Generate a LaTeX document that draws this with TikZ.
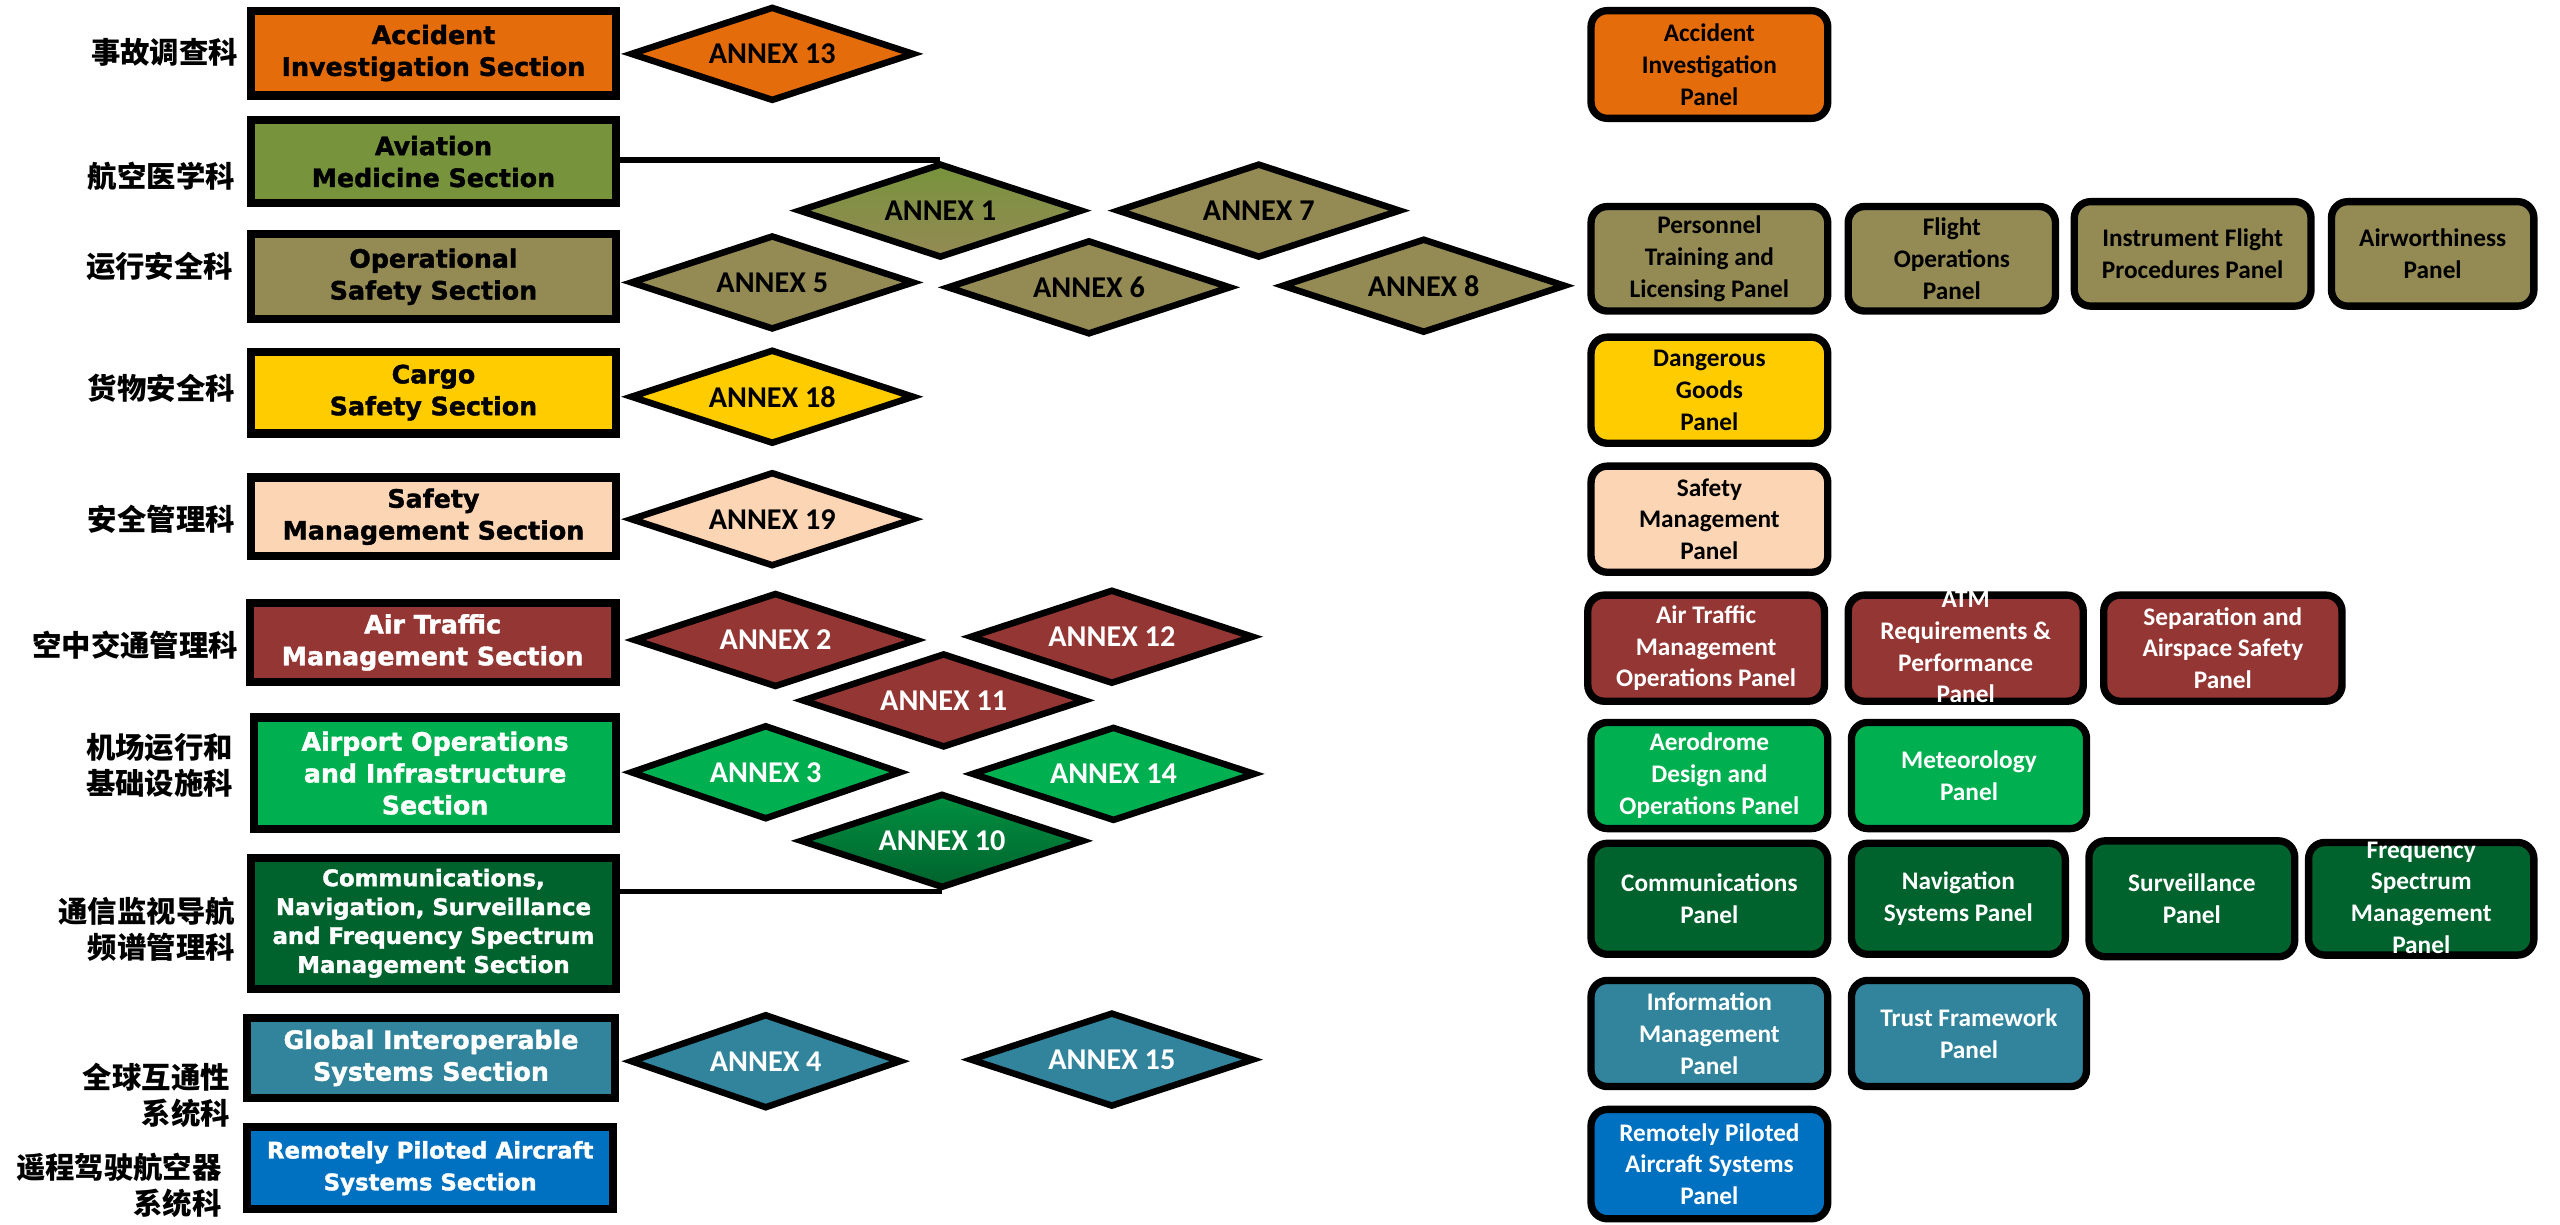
\documentclass[tikz,border=0pt]{standalone}
\usepackage{fontspec}
\usepackage{tikz}
\usetikzlibrary{shapes.geometric,positioning}
\setmainfont{Carlito}
\newfontfamily\boxfam{DejaVu Sans}[BoldFeatures={FakeBold=1.5}]
\newfontfamily\cjk{Noto Sans CJK SC}
\newcommand\boxfont{\boxfam\bfseries\fontsize{15.5}{19.5}\selectfont}
\newcommand\annexfont{\bfseries\fontsize{18.5}{22}\selectfont}
\newcommand\panelfont{\bfseries\fontsize{15.5}{19.5}\selectfont}
\newcommand\cnfont{\cjk\bfseries\fontsize{18}{22}\selectfont}
\newcommand\packlines[1]{\smash{\raisebox{-4pt}{\begin{tabular}{@{}c@{}}#1\end{tabular}}}}

\definecolor{accorange}{HTML}{E46C0A}
\definecolor{medolive}{HTML}{77933C}
\definecolor{opstan}{HTML}{948A54}
\definecolor{cgoyellow}{HTML}{FFCC00}
\definecolor{smgpeach}{HTML}{FCD5B5}
\definecolor{atmred}{HTML}{943634}
\definecolor{agagreen}{HTML}{00B050}
\definecolor{cnsgreen}{HTML}{00622C}
\definecolor{gisteal}{HTML}{31849B}
\definecolor{rpsblue}{HTML}{0070C0}

\tikzstyle{sectbox}=[draw,line width=5pt,minimum width=224pt,minimum height=51pt,inner sep=0pt,align=center,font=\boxfont]
\tikzstyle{annex}=[diamond,aspect=3.2,draw,line width=4pt,minimum width=174pt,minimum height=58pt,inner sep=0pt,font=\annexfont]
\tikzstyle{panel}=[draw,line width=4.5pt,rounded corners=10pt,minimum width=145pt,minimum height=65pt,inner sep=0pt,align=center,font=\panelfont]
\tikzstyle{cnlabel}=[anchor=east,align=right,inner sep=0pt,font=\cnfont]
\tikzstyle{link}=[draw,line width=3.5pt]

\begin{document}
\begin{tikzpicture}[x=1pt,y=-1pt]
  \useasboundingbox (0,0) rectangle (1568,750);

  % sections
  \node[sectbox,fill=accorange,minimum height=52pt] (acc) at (265.5,32.5) {Accident\\Investigation Section};
  \node[sectbox,fill=medolive] (avm) at (265.5,99) {Aviation\\Medicine Section};
  \node[sectbox,fill=opstan,minimum height=52pt] (ops) at (265.5,169.5) {Operational\\Safety Section};
  \node[sectbox,fill=cgoyellow,minimum height=50pt] (cgo) at (265.5,240.5) {Cargo\\Safety Section};
  \node[sectbox,fill=smgpeach,minimum height=48pt] (smg) at (265.5,316.5) {Safety\\Management Section};
  \node[sectbox,fill=atmred,text=white,minimum height=48pt] (atm) at (265,393.5) {Air Traffic\\Management Section};
  \node[sectbox,fill=agagreen,text=white,minimum width=222pt,minimum height=68pt] (aga) at (266.5,473.5) {Airport Operations\\and Infrastructure\\Section};
  \node[sectbox,fill=cnsgreen,text=white,minimum height=80pt,font=\boxfam\bfseries\fontsize{14}{17.7}\selectfont] (cns) at (265.5,565.5) {Communications,\\Navigation, Surveillance\\and Frequency Spectrum\\Management Section};
  \node[sectbox,fill=gisteal,text=white,minimum width=225pt,minimum height=49pt] (gis) at (264,648) {Global Interoperable\\Systems Section};
  \node[sectbox,fill=rpsblue,text=white,minimum height=50pt,font=\boxfam\bfseries\fontsize{14}{19.5}\selectfont] (rps) at (263.5,715.5) {Remotely Piloted Aircraft\\Systems Section};

  % chinese names
  \node[cnlabel] (acclbl) at (146,32) {事故调查科};
  \node[cnlabel] (avmlbl) at (144,108) {航空医学科};
  \node[cnlabel] (opslbl) at (143,163) {运行安全科};
  \node[cnlabel] (cgolbl) at (144,238) {货物安全科};
  \node[cnlabel] (smglbl) at (144,318) {安全管理科};
  \node[cnlabel] (atmlbl) at (146,395) {空中交通管理科};
  \node[cnlabel] (agalbl) at (143,469) {机场运行和\\基础设施科};
  \node[cnlabel] (cnslbl) at (144,569) {通信监视导航\\频谱管理科};
  \node[cnlabel] (gislbl) at (141,671) {全球互通性\\系统科};
  \node[cnlabel] (rpslbl) at (136,726) {遥程驾驶航空器\\系统科};

  % annexes
  \node[annex,fill=accorange] (an13) at (473,33) {ANNEX 13};
  \node[annex,top color=medolive,bottom color=opstan] (an1) at (576,129) {ANNEX 1};
  \node[annex,fill=opstan] (an7) at (771,129) {ANNEX 7};
  \node[annex,fill=opstan] (an5) at (473,173) {ANNEX 5};
  \node[annex,fill=opstan] (an6) at (667,176) {ANNEX 6};
  \node[annex,fill=opstan] (an8) at (872,175) {ANNEX 8};
  \node[annex,fill=cgoyellow] (an18) at (473,243) {ANNEX 18};
  \node[annex,fill=smgpeach] (an19) at (473,318) {ANNEX 19};
  \node[annex,fill=atmred,text=white] (an2) at (475,392) {ANNEX 2};
  \node[annex,fill=atmred,text=white] (an12) at (681,390) {ANNEX 12};
  \node[annex,fill=atmred,text=white] (an11) at (578,429) {ANNEX 11};
  \node[annex,fill=agagreen,text=white,minimum width=166pt] (an3) at (469,473) {ANNEX 3};
  \node[annex,fill=agagreen,text=white] (an14) at (682,474) {ANNEX 14};
  \node[annex,top color=agagreen!60!cnsgreen,bottom color=cnsgreen,text=white] (an10) at (577,515) {ANNEX 10};
  \node[annex,fill=gisteal,text=white,minimum width=166pt] (an4) at (469,650) {ANNEX 4};
  \node[annex,fill=gisteal,text=white] (an15) at (681,649) {ANNEX 15};

  % panels
  \node[panel,fill=accorange,minimum height=66pt] (acp) at (1047,39.5) {Accident\\Investigation\\Panel};
  \node[panel,fill=opstan,minimum height=64pt] (ptl) at (1047,158.5) {Personnel\\Training and\\Licensing Panel};
  \node[panel,fill=opstan,minimum width=127pt,minimum height=64pt] (fop) [right=8pt of ptl] {Flight\\Operations\\Panel};
  \node[panel,fill=opstan,minimum height=64pt] (ifp) [right=7pt of fop,yshift=3pt] {Instrument Flight\\Procedures Panel};
  \node[panel,fill=opstan,minimum width=124pt,minimum height=64pt] (awp) [right=8pt of ifp] {Airworthiness\\Panel};
  \node[panel,fill=cgoyellow] (dgp) at (1047,239) {Dangerous\\Goods\\Panel};
  \node[panel,fill=smgpeach] (smp) at (1047,318) {Safety\\Management\\Panel};
  \node[panel,fill=atmred,text=white] (atop) at (1045,397) {Air Traffic\\Management\\Operations Panel};
  \node[panel,fill=atmred,text=white,minimum width=144pt] (atrp) [right=10pt of atop] {\packlines{ATM\\Requirements \&\\Performance\\Panel}};
  \node[panel,fill=atmred,text=white,minimum width=146pt] (sasp) [right=8pt of atrp] {Separation and\\Airspace Safety\\Panel};
  \node[panel,fill=agagreen,text=white] (adop) at (1047,475) {Aerodrome\\Design and\\Operations Panel};
  \node[panel,fill=agagreen,text=white,minimum width=144pt] (metp) [right=10pt of adop] {Meteorology\\Panel};
  \node[panel,fill=cnsgreen,text=white,minimum height=68pt] (comp) at (1047,550.5) {Communications\\Panel};
  \node[panel,fill=cnsgreen,text=white,minimum width=131pt,minimum height=68pt] (navp) [right=10pt of comp] {Navigation\\Systems Panel};
  \node[panel,fill=cnsgreen,text=white,minimum width=126pt,minimum height=71pt] (survp) [right=10pt of navp] {Surveillance\\Panel};
  \node[panel,fill=cnsgreen,text=white,minimum width=138pt,minimum height=69pt] (fsmp) [right=4pt of survp] {\packlines{Frequency\\Spectrum\\Management\\Panel}};
  \node[panel,fill=gisteal,text=white] (imp) at (1047,633) {Information\\Management\\Panel};
  \node[panel,fill=gisteal,text=white,minimum width=144pt] (tfp) [right=10pt of imp] {Trust Framework\\Panel};
  \node[panel,fill=rpsblue,text=white,minimum height=67pt] (rpp) at (1047,713) {Remotely Piloted\\Aircraft Systems\\Panel};

  % links
  \draw[link] (avm.east |- an1.north) -- (an1.north);
  \draw[link] (cns.east |- an10.south) -- (an10.south);
\end{tikzpicture}
\end{document}
